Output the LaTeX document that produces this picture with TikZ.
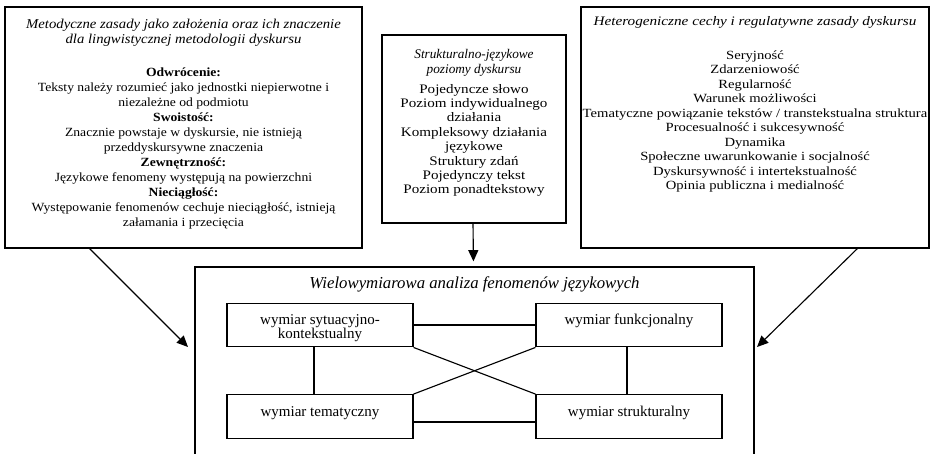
\documentclass[tikz,border=0pt]{standalone}
\usepackage{fontspec}
\setmainfont{Liberation Serif}
\newfontfamily\zasadyfont[FakeStretch=1.09]{Liberation Serif}
\newfontfamily\poziomyfont[FakeStretch=1.16]{Liberation Serif}
\newfontfamily\cechyfont[FakeStretch=1.17]{Liberation Serif}
\usetikzlibrary{calc,positioning,arrows.meta}
\tikzset{
	box/.style={draw, line width=1pt, inner sep=0pt},
	boxtext/.style={align=center, inner sep=0pt},
	dimbox/.style={draw, line width=0.9pt, minimum width=148.8pt, minimum height=35pt},
	dimtext/.style={align=center, inner sep=0pt, font=\fontsize{12}{11.2}\selectfont},
	link/.style={line width=0.9pt},
	arr/.style={-{Triangle[length=9pt,width=8pt]}, line width=0.9pt}
}

\begin{document}
\begin{tikzpicture}[x=0.8pt,y=-0.8pt]
	\useasboundingbox (0,0) rectangle (933,453);

	% three source boxes
	\node[box, minimum width=285.6pt, minimum height=192.8pt] (zasady) at (183.5,127.5) {};
	\node[box, minimum width=147.2pt, minimum height=150.4pt] (poziomy) at (474,129) {};
	\node[box, minimum width=278.4pt, minimum height=192.8pt] (cechy) at (755,127.5) {};

	\node[boxtext, font=\zasadyfont\fontsize{10}{12}\selectfont, below=10pt of zasady.north] (zasadyT) {%
		\textit{\fontsize{10.8}{12}\selectfont Metodyczne zasady jako założenia oraz ich znaczenie}\\
		\textit{\fontsize{10.8}{12}\selectfont dla lingwistycznej metodologii dyskursu}\\[14.5pt]
		\textbf{Odwrócenie:}\\
		Teksty należy rozumieć jako jednostki niepierwotne i\\
		niezależne od podmiotu\\
		\textbf{Swoistość:}\\
		Znacznie powstaje w dyskursie, nie istnieją\\
		przeddyskursywne znaczenia\\
		\textbf{Zewnętrzność:}\\
		Językowe fenomeny występują na powierzchni\\
		\textbf{Nieciągłość:}\\
		Występowanie fenomenów cechuje nieciągłość, istnieją\\
		załamania i przecięcia};
	\node[boxtext, font=\poziomyfont\fontsize{10.4}{11.5}\selectfont, below=12pt of poziomy.north] (poziomyT) {%
		\textit{\rmfamily\fontsize{10.6}{11.5}\selectfont Strukturalno-językowe}\\
		\textit{\rmfamily\fontsize{10.6}{11.5}\selectfont poziomy dyskursu}\\[4.5pt]
		Pojedyncze słowo\\
		Poziom indywidualnego\\
		działania\\
		Kompleksowy działania\\
		językowe\\
		Struktury zdań\\
		Pojedynczy tekst\\
		Poziom ponadtekstowy};
	\node[boxtext, font=\cechyfont\fontsize{10}{11.6}\selectfont, below=8.2pt of cechy.north] (cechyT) {%
		\textit{\fontsize{10.4}{11.6}\selectfont Heterogeniczne cechy i regulatywne zasady dyskursu}\\[15pt]
		Seryjność\\
		Zdarzeniowość\\
		Regularność\\
		Warunek możliwości\\
		Tematyczne powiązanie tekstów / transtekstualna struktura\\
		Procesualność i sukcesywność\\
		Dynamika\\
		Społeczne uwarunkowanie i socjalność\\
		Dyskursywność i intertekstualność\\
		Opinia publiczna i medialność};

	% target box
	\node[box, minimum width=447.2pt, minimum height=170.4pt] (analiza) at (474.5,373.5) {};
	\node[boxtext, font=\fontsize{13.4}{14}\selectfont, below=8pt of analiza.north] (analizaT)
		{\textit{Wielowymiarowa analiza fenomenów językowych}};

	\node[dimbox] (sit) at (320,325) {};
	\node[dimbox] (funk) at (629,325) {};
	\node[dimbox] (tem) at (320,416.5) {};
	\node[dimbox] (struk) at (629,416.5) {};
	\node[dimtext, below=9.6pt of sit.north] (sitT) {wymiar sytuacyjno-\\kontekstualny};
	\node[dimtext, below=8.8pt of funk.north] (funkT) {wymiar funkcjonalny};
	\node[dimtext, below=9.6pt of tem.north] (temT) {wymiar tematyczny};
	\node[dimtext, below=9.6pt of struk.north] (strukT) {wymiar strukturalny};

	\draw[link] (sit.east) -- (funk.west);
	\draw[link] ([yshift=-4.4pt]tem.east) -- ([yshift=-4.4pt]struk.west);
	\draw[link] ([xshift=-4.8pt]sit.south) -- ([xshift=-4.8pt]tem.north);
	\draw[link] ([xshift=-1.6pt]funk.south) -- ([xshift=-1.6pt]struk.north);
	\draw[link] (sit.south east) -- (struk.north west);
	\draw[link] (tem.north east) -- (funk.south west);

	% arrows into the analysis
	\coordinate (inL) at (188,347);
	\coordinate (inR) at (757,347);
	\draw[arr] ($(zasady.south west)!0.238!(zasady.south east)$) -- (inL);
	\draw[arr] ($(cechy.south west)!0.793!(cechy.south east)$) -- (inR);
	\draw[arr, shorten >=4pt] ([xshift=-0.8pt]poziomy.south) -- ([xshift=-0.8pt]analiza.north);
\end{tikzpicture}
\end{document}
